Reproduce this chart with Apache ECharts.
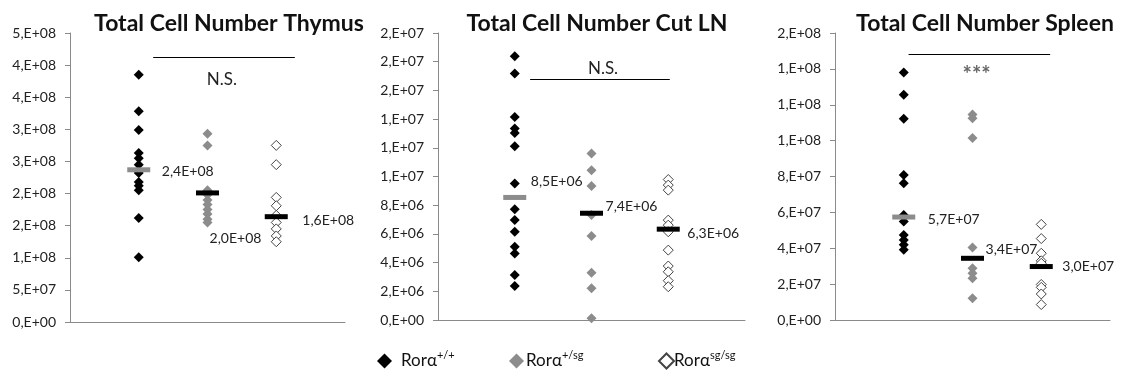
<!DOCTYPE html>
<html><head><meta charset="utf-8">
<script src="https://cdn.jsdelivr.net/npm/echarts@6/dist/echarts.min.js"></script>
<style>html,body{margin:0;padding:0;background:#fff}#c{width:1121px;height:376px}</style>
</head><body><div id="c"></div>
<script>
// ---- data ----
const groupNames = ['Rorα+/+', 'Rorα+/sg', 'Rorαsg/sg'];
const groupX = [1, 2, 3];
const panelTitles = ['Total Cell Number Thymus', 'Total Cell Number Cut LN', 'Total Cell Number Spleen'];

const thymusWT  = [3.85e8, 3.28e8, 2.99e8, 2.63e8, 2.55e8, 2.45e8, 2.32e8, 2.18e8, 2.12e8, 2.05e8, 1.62e8, 1.01e8];
const thymusHet = [2.93e8, 2.75e8, 2.05e8, 1.98e8, 1.90e8, 1.83e8, 1.75e8, 1.68e8, 1.60e8, 1.55e8];
const thymusKO  = [2.75e8, 2.45e8, 1.94e8, 1.81e8, 1.66e8, 1.55e8, 1.45e8, 1.34e8, 1.25e8];
const thymusMeans = [2.37e8, 2.01e8, 1.64e8];
const thymusTicks = ['0,E+00','5,E+07','1,E+08','2,E+08','2,E+08','3,E+08','3,E+08','4,E+08','4,E+08','5,E+08'];

const cutlnWT  = [1.838e7, 1.717e7, 1.415e7, 1.334e7, 1.304e7, 1.211e7, 9.52e6, 7.71e6, 6.96e6, 6.15e6, 5.10e6, 4.64e6, 3.13e6, 2.37e6];
const cutlnHet = [1.160e7, 1.044e7, 9.33e6, 7.31e6, 5.85e6, 3.29e6, 2.21e6, 1.2e5];
const cutlnKO  = [9.79e6, 9.40e6, 9.05e6, 6.96e6, 6.61e6, 6.15e6, 4.87e6, 3.76e6, 3.36e6, 2.74e6, 2.32e6];
const cutlnMeans = [8.54e6, 7.44e6, 6.33e6];
const cutlnTicks = ['0,E+00','2,E+06','4,E+06','6,E+06','8,E+06','1,E+07','1,E+07','1,E+07','2,E+07','2,E+07','2,E+07'];

const spleenWT  = [1.380e8, 1.256e8, 1.122e8, 8.09e7, 7.63e7, 5.86e7, 5.49e7, 4.74e7, 4.46e7, 4.19e7, 3.91e7];
const spleenHet = [1.145e8, 1.125e8, 1.014e8, 4.04e7, 2.88e7, 2.60e7, 2.33e7, 1.21e7];
const spleenKO  = [5.33e7, 4.54e7, 3.72e7, 3.30e7, 3.16e7, 1.98e7, 1.82e7, 1.45e7, 8.6e6];
const spleenMeans = [5.74e7, 3.44e7, 2.98e7];
const spleenTicks = ['0,E+00','2,E+07','4,E+07','6,E+07','8,E+07','1,E+08','1,E+08','1,E+08','2,E+08'];

const sigText = ['N.S.', 'N.S.', '***'];
// significance bar: [x start, x end, y], text position [x, y]
const sigBar = [[1.21, 3.27, 4.12e8], [1.20, 3.02, 1.676e7], [1.07, 3.13, 1.484e8]];
const sigPos = [[2.21, 3.77e8], [2.15, 1.754e7], [2.06, 1.395e8]];

// ---- styling ----
const FONT = 'Lato, "Open Sans", sans-serif';
const AXIS_COLOR = '#8a8a8a';
const GREY = '#8c8c8c';
const panels = [
  {wt: thymusWT, het: thymusHet, ko: thymusKO, means: thymusMeans, ticks: thymusTicks, interval: 5e7,
   grid: {left: 70, top: 33, width: 275, height: 289}, titleX: 224,
   meanOffsets: [[49, 2], [28, 46], [52, 4]]},
  {wt: cutlnWT, het: cutlnHet, ko: cutlnKO, means: cutlnMeans, ticks: cutlnTicks, interval: 2e6,
   grid: {left: 438, top: 33, width: 307, height: 287}, titleX: 592,
   meanOffsets: [[42, -16], [40, -7], [45, 4]]},
  {wt: spleenWT, het: spleenHet, ko: spleenKO, means: spleenMeans, ticks: spleenTicks, interval: 2e7,
   grid: {left: 835, top: 33, width: 275, height: 287}, titleX: 980,
   meanOffsets: [[50, 2], [39, -9], [47, 0]]}
];

function fmtMean(v) {
  const parts = v.toExponential(1).split('e');
  const m = parts[0].replace('.', ',');
  const e = parseInt(parts[1], 10);
  return m + 'E' + (e < 0 ? '-' : '+') + String(Math.abs(e)).padStart(2, '0');
}

const grids = [], xAxes = [], yAxes = [], series = [], titles = [];
panels.forEach((p, i) => {
  grids.push(p.grid);
  titles.push({text: panelTitles[i], left: p.titleX, top: 7, textAlign: 'center',
    textStyle: {fontFamily: FONT, fontWeight: 'bold', fontSize: 23, color: '#111'}});
  xAxes.push({gridIndex: i, type: 'value', min: 0, max: 4, interval: 1,
    axisLine: {show: true, lineStyle: {color: AXIS_COLOR, width: 1}},
    axisTick: {show: false}, axisLabel: {show: false}, splitLine: {show: false}});
  const n = p.ticks.length - 1;
  yAxes.push({gridIndex: i, type: 'value', min: 0, max: p.interval * n, interval: p.interval,
    axisLine: {show: true, lineStyle: {color: AXIS_COLOR, width: 1}},
    axisTick: {show: true, inside: false, length: 5, lineStyle: {color: AXIS_COLOR}},
    splitLine: {show: false},
    axisLabel: {margin: 14, fontFamily: FONT, fontSize: 14, color: '#222',
      formatter: v => p.ticks[Math.round(v / p.interval)]}});
  const groups = [p.wt, p.het, p.ko];
  const styles = [
    {color: '#000', opacity: 1},
    {color: GREY, opacity: 1},
    {color: '#fff', borderColor: '#444', borderWidth: 1, opacity: 1}
  ];
  groups.forEach((vals, g) => {
    series.push({name: groupNames[g], type: 'scatter', xAxisIndex: i, yAxisIndex: i,
      symbol: 'diamond', symbolSize: 10, itemStyle: styles[g], z: 2,
      emphasis: {disabled: true},
      data: vals.map(v => [groupX[g], v])});
  });
  series.push({name: 'mean', type: 'scatter', xAxisIndex: i, yAxisIndex: i,
    symbol: 'rect', symbolSize: [23, 5], z: 5, emphasis: {disabled: true},
    data: p.means.map((v, g) => ({value: [groupX[g], v],
      itemStyle: {color: g === 0 ? GREY : '#000', opacity: 1},
      label: {show: true, position: 'inside', offset: p.meanOffsets[g],
        formatter: d => fmtMean(d.value[1]), fontFamily: FONT, fontSize: 14, color: '#222'}})),
    markLine: {silent: true, symbol: 'none', animation: false,
      lineStyle: {color: '#000', width: 1, type: 'solid'}, label: {show: false},
      data: [[{coord: [sigBar[i][0], sigBar[i][2]]}, {coord: [sigBar[i][1], sigBar[i][2]]}]]},
    markPoint: {silent: true, symbol: 'rect', symbolSize: 1, itemStyle: {color: 'rgba(0,0,0,0)'},
      data: [{coord: sigPos[i], label: {show: true, position: 'inside', formatter: sigText[i],
        offset: i === 2 ? [0, 5] : [0, 0], fontWeight: i === 2 ? 'bold' : 'normal',
        fontFamily: FONT, fontSize: i === 2 ? 22 : 17, color: i === 2 ? '#666' : '#222'}}]}
  });
});

const legendLefts = [377, 509, 658];
const legendPadLeft = [4, -3, -5];
const legendSup = ['+/+', '+/sg', 'sg/sg'];
const legends = groupNames.map((name, g) => ({
  data: [name], left: legendLefts[g], top: 350, padding: 0, icon: 'diamond', itemWidth: 15, itemHeight: 15,
  itemGap: 0, selectedMode: false,
  formatter: () => '{a|Rorα}{s|' + legendSup[g] + '}',
  textStyle: {fontFamily: FONT, fontSize: 17, color: '#111', padding: [0, 0, 0, legendPadLeft[g]],
    rich: {a: {fontFamily: FONT, fontSize: 17, lineHeight: 22, color: '#111'},
           s: {fontFamily: FONT, fontSize: 11, lineHeight: 11, verticalAlign: 'top', color: '#111'}}}
}));

const chart = echarts.init(document.getElementById('c'), null, {renderer: 'canvas'});
chart.setOption({animation: false, backgroundColor: '#fff', title: titles, grid: grids,
  xAxis: xAxes, yAxis: yAxes, series: series, legend: legends, tooltip: {show: false}});
</script></body></html>
